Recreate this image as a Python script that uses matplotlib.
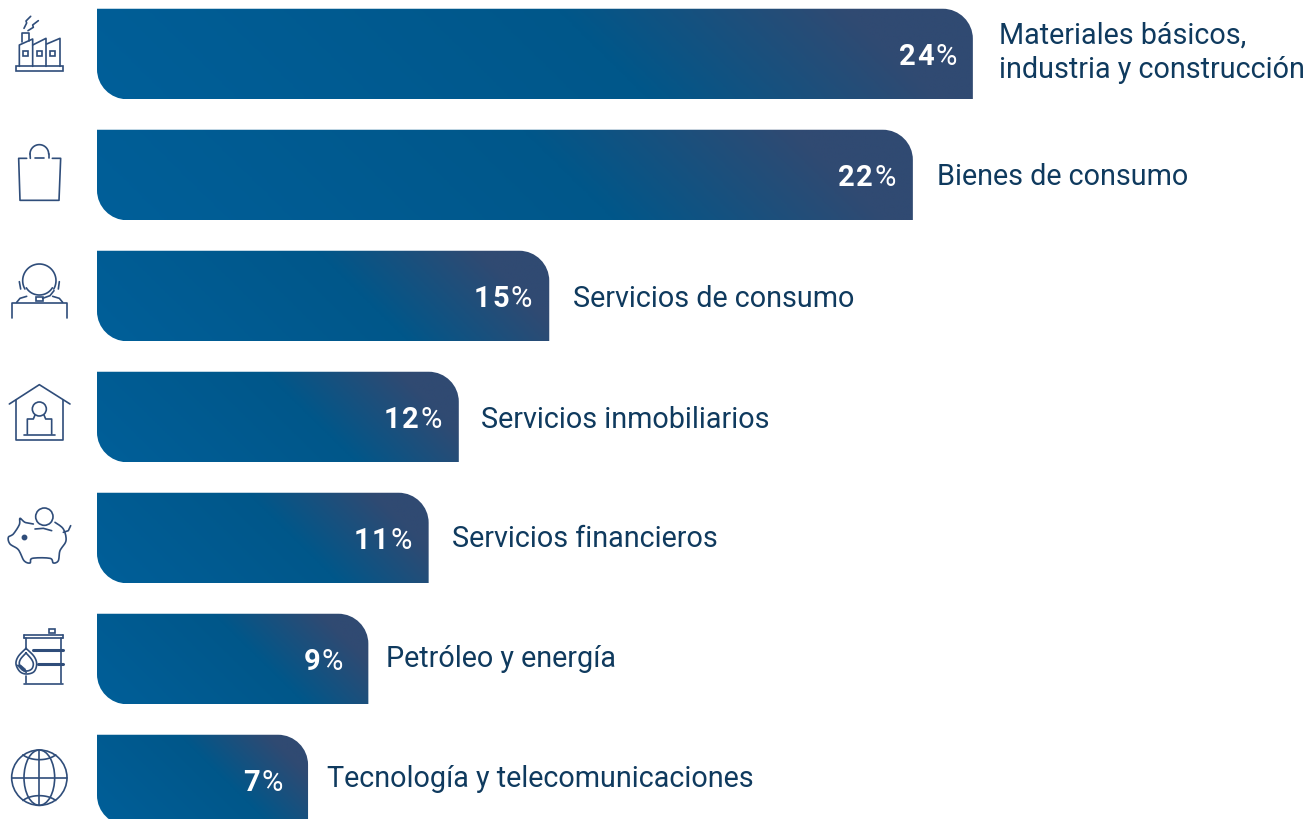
#!/usr/bin/python3

import numpy as np
import matplotlib
matplotlib.use("Agg")
import matplotlib.pyplot as plt
from matplotlib.colors import LinearSegmentedColormap
from matplotlib.patches import Circle, Ellipse, PathPatch, Polygon, Rectangle
from matplotlib.path import Path

W, H = 1311, 820

categories = ["Materiales básicos,\nindustria y construcción", "Bienes de consumo",
              "Servicios de consumo", "Servicios inmobiliarios", "Servicios financieros",
              "Petróleo y energía", "Tecnología y telecomunicaciones"]
pct_labels = ["24", "22", "15", "12", "11", "9", "7"]
# the two long bars are drawn longer than their printed value, as in the picture
bar_lengths = [29.05, 27.06, 15.0, 12.0, 11.0, 9.0, 7.0]

# text offsets from the bar end, in pixels
pct_pad = [16, 17, 17, 17, 17, 25, 25]
label_gap = [26, 24, 24, 22, 23, 18, 19]
label_dy = [2, -1, -2, -2, 0, 1, 2]

PX_PER_UNIT = 30.15
X0 = 97
Y0 = 55
PITCH = 121
BAR_H = 90.5 / PITCH
RADIUS = 30

ICON = "#2f4d7a"
TEXT = "#0f3a5e"

grad = LinearSegmentedColormap.from_list(
    "bar", [(0, "#005f99"), (0.57, "#00578a"), (0.87, "#304a72"), (1, "#304a72")])

fig = plt.figure(figsize=(W / 100, H / 100), dpi=100)
ax = fig.add_axes([0, 0, 1, 1])
xlim = (-X0 / PX_PER_UNIT, (W - X0) / PX_PER_UNIT)
ylim = ((H - Y0) / PITCH, -Y0 / PITCH)
ax.axis("off")


def barPath(length, yc):
    # square corners except bottom left and top right
    rx = RADIUS / PX_PER_UNIT
    ry = RADIUS / PITCH
    k = 0.45
    t = yc - BAR_H / 2
    b = yc + BAR_H / 2
    verts = [(0, t), (length - rx, t), (length - rx * k, t), (length, t + ry * k), (length, t + ry),
             (length, b), (rx, b), (rx * k, b), (0, b - ry * k), (0, b - ry), (0, t)]
    codes = [Path.MOVETO, Path.LINETO, Path.CURVE4, Path.CURVE4, Path.CURVE4,
             Path.LINETO, Path.LINETO, Path.CURVE4, Path.CURVE4, Path.CURVE4, Path.CLOSEPOLY]
    return Path(verts, codes)


for i, length in enumerate(bar_lengths):
    patch = PathPatch(barPath(length, i), fc="none", ec="none", transform=ax.transData)
    ax.add_patch(patch)
    w_px = length * PX_PER_UNIT
    xx, yy = np.meshgrid(np.linspace(0, w_px, 300), np.linspace(0, 90.5, 40))
    t = (xx + (90.5 - yy)) / (w_px + 90.5)
    im = ax.imshow(t, cmap=grad, vmin=0, vmax=1, aspect="auto", interpolation="bilinear",
                   extent=[0, length, i + BAR_H / 2, i - BAR_H / 2])
    im.set_clip_path(patch)

    # digits set one by one, the original face is wider than Roboto
    x_off = -pct_pad[i]
    ax.annotate("%", (length, i), xytext=(x_off, -2), textcoords="offset pixels",
                ha="right", va="center", color="white", fontsize=21, family="Roboto")
    x_off -= 23
    for ch in reversed(pct_labels[i]):
        ax.annotate(ch, (length, i), xytext=(x_off, -2), textcoords="offset pixels",
                    ha="right", va="center", color="white", fontsize=21, family="Roboto",
                    fontweight="bold")
        x_off -= 18.5
    ax.annotate(categories[i], (length, i), xytext=(label_gap[i], label_dy[i]),
                textcoords="offset pixels", ha="left", va="center", color=TEXT,
                fontsize=20.7, family="Roboto", linespacing=1.3)

ax.set_xlim(xlim)
ax.set_ylim(ylim)

# icons, in pixel coordinates of the page; points are given at 3x
ic = fig.add_axes([0, 0, 1, 1])
ic.set_xlim(0, W)
ic.set_ylim(H, 0)
ic.axis("off")
ic.patch.set_alpha(0)
LW = 1.2
off = 0


def line(pts, lw=LW):
    pts = np.array(pts, dtype=float) + [0, off]
    pts = pts / 3
    ic.plot(pts[:, 0], pts[:, 1], color=ICON, lw=lw, solid_capstyle="round", solid_joinstyle="round")


def smooth(pts, closed=False):
    # catmull-rom through the given points
    p = np.array(pts, dtype=float)
    if closed:
        p = np.vstack([p[-1], p, p[0], p[1]])
    else:
        p = np.vstack([p[0], p, p[-1]])
    out = []
    for a, b, c, d in zip(p[:-3], p[1:-2], p[2:-1], p[3:]):
        for s in np.linspace(0, 1, 10):
            out.append(0.5 * (2 * b + (c - a) * s + (2 * a - 5 * b + 4 * c - d) * s ** 2
                              + (3 * b - a - 3 * c + d) * s ** 3))
    line(out)


def circle(cx, cy, r):
    ic.add_patch(Circle((cx / 3, (cy + off) / 3), r / 3, fill=False, ec=ICON, lw=LW))


def arc(cx, cy, rx, ry, a0, a1):
    a = np.radians(np.linspace(a0, a1, 40))
    line(np.column_stack([cx + rx * np.cos(a), cy + ry * np.sin(a)]))


def box(x0, y0, x1, y1, lw=LW):
    ic.add_patch(Rectangle((x0 / 3, (y0 + off) / 3), (x1 - x0) / 3, (y1 - y0) / 3,
                           fill=False, ec=ICON, lw=lw))


# factory
box(47, 202, 190, 216)
line([(58, 202), (58, 138), (98, 120), (98, 202)])
line([(98, 138), (138, 118), (138, 202)])
line([(140, 135), (180, 118), (180, 202)])
line([(66, 130), (66, 102), (88, 102), (88, 125)])
for x in (70, 111, 151):
    box(x, 156, x + 14, 170)
line([(72, 88), (80, 72), (78, 66), (92, 52)])
line([(84, 95), (100, 85), (98, 78), (115, 65)])

# bag
line([(80, 478), (56, 478), (60, 604), (177, 604), (182, 478), (157, 478)])
line([(105, 478), (133, 478)])
arc(118, 465, 28, 28, 180, 360)
line([(90, 465), (91, 478)])
line([(146, 465), (146, 478)])

# headset
arc(118, 845, 50, 50, 150, 390)
arc(118, 845, 45, 43, 30, 150)
line([(58, 848), (62, 870)])
line([(178, 848), (175, 870)])
box(108, 895, 128, 905)
line([(128, 898), (150, 890), (162, 875)])
line([(50, 910), (60, 898), (80, 892)])
line([(158, 892), (178, 898), (188, 910)])
line([(37, 958), (37, 912), (200, 912), (200, 958)])

off = 1080

# house
line([(28, 135), (118, 77), (210, 135)])
line([(47, 122), (47, 242), (190, 242), (190, 122)])
circle(118, 150, 21)
line([(105, 168), (100, 180), (82, 180), (82, 225)])
line([(132, 168), (137, 180), (155, 180), (155, 225)])
line([(72, 228), (165, 228)])

# piggy bank
smooth([(100, 495), (75, 490), (60, 478), (58, 497), (40, 525), (25, 535), (30, 555), (55, 572),
        (72, 605), (90, 612), (97, 598), (150, 598), (160, 612), (175, 605), (180, 575), (198, 545),
        (190, 510), (165, 490)])
line([(190, 520), (205, 515), (212, 500)])
circle(133, 473, 26)
line([(105, 510), (130, 508), (155, 515)])
ic.plot([71 / 3], [(533 + off) / 3], "o", color=ICON, ms=3.2)

# barrel
line([(72, 827), (188, 827)])
line([(72, 838), (188, 838)])
line([(72, 827), (72, 838)])
line([(188, 827), (188, 838)])
box(147, 810, 166, 822)
line([(182, 838), (182, 972)])
line([(78, 838), (78, 868)])
line([(100, 874), (188, 874)], lw=2.2)
line([(115, 915), (188, 915)], lw=2.2)
line([(78, 950), (78, 972)])
line([(72, 974), (188, 974)])
smooth([(78, 868), (55, 892), (48, 915), (60, 938), (80, 945), (102, 938), (110, 915), (102, 892), (78, 868)])
smooth([(78, 882), (62, 900), (58, 915), (66, 930), (80, 936), (95, 930), (100, 915), (94, 900), (78, 882)])
ic.add_patch(Polygon(np.array([(50, 918), (66, 934), (80, 942), (76, 930), (62, 918)], dtype=float) / 3
                     + [0, off / 3], fc=ICON, ec=ICON, lw=0.5))

# globe
circle(118, 1256, 83)
ic.add_patch(Ellipse((118 / 3, (1256 + off) / 3), 92 / 3, 166 / 3, fill=False, ec=ICON, lw=LW))
line([(118, 1173), (118, 1339)])
line([(35, 1256), (201, 1256)])
arc(118, 1168, 60, 34, 35, 145)
arc(118, 1344, 60, 34, 215, 325)

fig.savefig("out.png", dpi=100)
